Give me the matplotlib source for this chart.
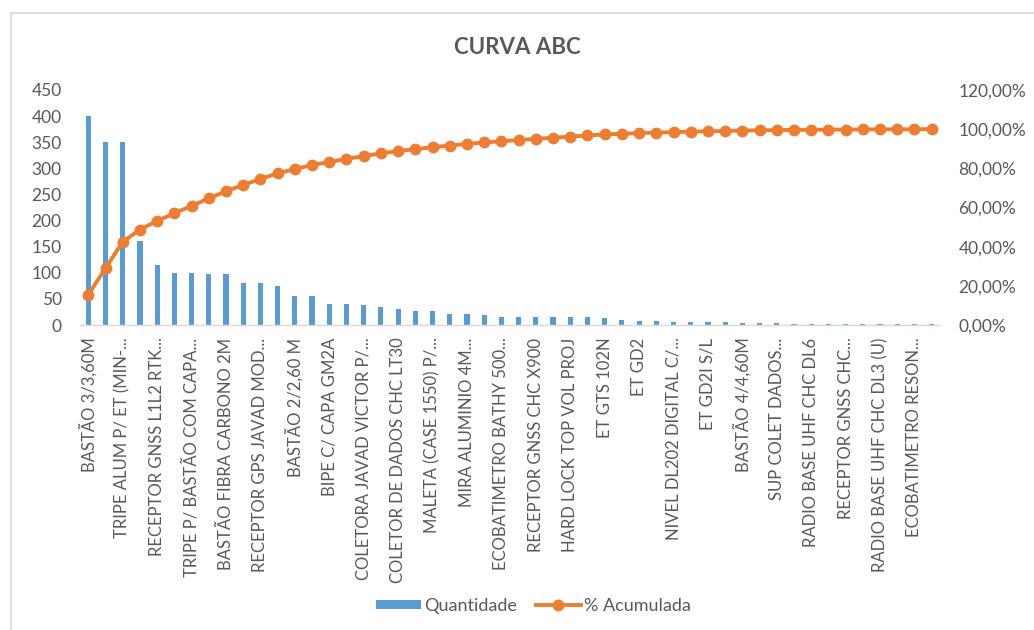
import numpy as np
import matplotlib
matplotlib.use("Agg")
import matplotlib.pyplot as plt
from matplotlib.lines import Line2D
from matplotlib.patches import Patch
from matplotlib.ticker import FuncFormatter

# ---- data ----
quantidade = [400, 350, 350, 160, 115, 100, 100, 97, 97, 80,
              80, 75, 55, 55, 40, 40, 38, 35, 30, 26,
              26, 22, 21, 19, 16, 16, 16, 15, 15, 15,
              13, 10, 8, 7, 6, 6, 5, 5, 4, 4,
              3, 2, 2, 2, 1, 1, 1, 1, 1, 1]
# labels shown on every second category
tick_labels = [
    "BASTÃO 3/3,60M", "TRIPE ALUM P/ ET (MIN-...", "RECEPTOR GNSS L1L2 RTK...",
    "TRIPE P/ BASTÃO COM CAPA...", "BASTÃO FIBRA CARBONO 2M", "RECEPTOR GPS JAVAD MOD...",
    "BASTÃO 2/2,60 M", "BIPE C/ CAPA GM2A", "COLETORA JAVAD VICTOR P/...",
    "COLETOR DE DADOS CHC LT30", "MALETA (CASE 1550) P/...", "MIRA ALUMINIO 4M...",
    "ECOBATIMETRO BATHY 500...", "RECEPTOR GNSS CHC X900", "HARD LOCK TOP VOL PROJ",
    "ET GTS 102N", "ET GD2", "NIVEL DL202 DIGITAL C/...", "ET GD2I S/L",
    "BASTÃO 4/4,60M", "SUP COLET DADOS...", "RADIO BASE UHF CHC DL6",
    "RECEPTOR GNSS CHC...", "RADIO BASE UHF CHC DL3 (U)", "ECOBATIMETRO RESON...",
]
left_ticks = [0, 50, 100, 150, 200, 250, 300, 350, 400, 450]
right_ticks = [0.0, 0.2, 0.4, 0.6, 0.8, 1.0, 1.2]

plt.rcParams['font.family'] = ['Lato', 'DejaVu Sans']
GRAY = '#595959'
BLUE = '#5B9BD5'
ORANGE = '#ED7D31'

W, H = 1034, 630
fig = plt.figure(figsize=(W / 100, H / 100), dpi=100)

x0, x1 = 79.7, 940.3
ytop, ybot = 90, 325
ax = fig.add_axes([x0 / W, 1 - ybot / H, (x1 - x0) / W, (ybot - ytop) / H])

x = np.arange(len(quantidade))
q = np.array(quantidade, dtype=float)
cum = np.cumsum(q) / q.sum()

ax.bar(x, q, width=0.3, color=BLUE, zorder=2)
ax.set_xlim(-0.5, len(q) - 0.5)
ax.set_ylim(0, 450)
ax.set_yticks(left_ticks)
ax.tick_params(axis='y', length=0, pad=13, labelsize=12.5, labelcolor=GRAY)
ax.set_xticks(x[::2])
ax.set_xticklabels(tick_labels, rotation=90, ha='center', va='top')
ax.tick_params(axis='x', length=0, pad=9, labelsize=12, labelcolor=GRAY)
for s in ['top', 'left', 'right']:
    ax.spines[s].set_visible(False)
ax.spines['bottom'].set_color('#D9D9D9')
ax.spines['bottom'].set_linewidth(1)

ax2 = ax.twinx()
ax2.plot(x, cum, color=ORANGE, linewidth=2.8, marker='o', markersize=7.5, zorder=3)
ax2.set_ylim(0, 1.2)
ax2.set_yticks(right_ticks)
ax2.yaxis.set_major_formatter(FuncFormatter(lambda v, p: f"{v*100:.2f}%".replace('.', ',')))
ax2.tick_params(axis='y', length=0, pad=13, labelsize=12.5, labelcolor=GRAY)
for s in ['top', 'left', 'right', 'bottom']:
    ax2.spines[s].set_visible(False)

fig.text(0.5, 1 - 48 / H, "CURVA ABC", ha='center', va='center',
         fontsize=16, fontweight='bold', color=GRAY)

handles = [Patch(facecolor=BLUE, edgecolor='none'),
           Line2D([0], [0], color=ORANGE, linewidth=2.8, marker='o', markersize=7.5)]
leg = fig.legend(handles, ["Quantidade", "% Acumulada"], loc='center',
                 bbox_to_anchor=(533.5 / W, 1 - 606 / H), ncol=2, frameon=False,
                 fontsize=13, handlelength=2.5, handleheight=0.45,
                 handletextpad=0.2, columnspacing=1.0)
for t in leg.get_texts():
    t.set_color(GRAY)

# chart border (top and left visible)
fig.add_artist(Line2D([11 / W, 1.0], [1 - 13 / H, 1 - 13 / H], color='#D9D9D9', linewidth=1.2))
fig.add_artist(Line2D([11 / W, 11 / W], [0, 1 - 13 / H], color='#D9D9D9', linewidth=1.2))

fig.savefig("out.png", dpi=100, facecolor='white')
